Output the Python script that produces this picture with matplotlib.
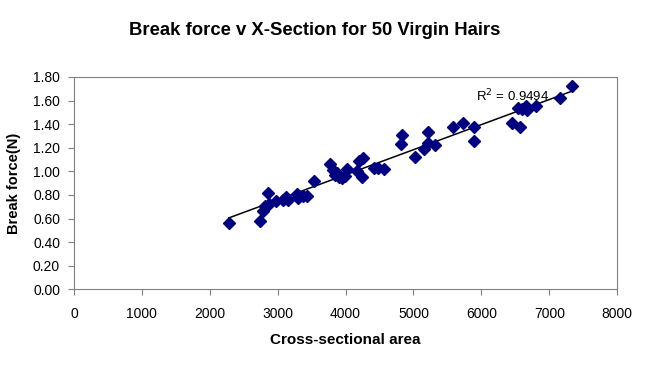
import matplotlib
matplotlib.use('Agg')
import matplotlib.pyplot as plt
import numpy as np

plt.rcParams['font.family'] = ['Liberation Sans', 'DejaVu Sans']

# cross-sectional area vs break force (N)
area = [2280, 2740, 2785, 2814, 2858, 2873, 2976, 3079, 3123, 3153,
        3285, 3300, 3374, 3433, 3536, 3772, 3816, 3845, 3904, 3948,
        3993, 4022, 4169, 4199, 4258, 4243, 4420, 4479, 4567, 4818,
        4832, 5024, 5157, 5216, 5216, 5319, 5584, 5731, 5893, 5893,
        6453, 6541, 6570, 6659, 6674, 6806, 7160, 7337, 3870, 6600]
force = [0.56, 0.58, 0.66, 0.71, 0.82, 0.72, 0.75, 0.76, 0.78, 0.76,
         0.81, 0.77, 0.79, 0.79, 0.92, 1.06, 1.01, 0.97, 0.95, 0.94,
         0.96, 1.02, 1.00, 1.09, 1.11, 0.95, 1.03, 1.03, 1.02, 1.23,
         1.31, 1.12, 1.19, 1.33, 1.24, 1.22, 1.38, 1.41, 1.38, 1.26,
         1.41, 1.54, 1.38, 1.55, 1.52, 1.55, 1.62, 1.72, 0.99, 1.53]
r2_text = 'R$^2$ = 0.9494'

fig = plt.figure(figsize=(6.49, 3.70), dpi=100)
ax = fig.add_axes([0.114, 0.218, 0.837, 0.574])

ax.plot(area, force, 'D', color='#000080', mec='#000080', ms=5.8, zorder=3)
k, b = np.polyfit(area, force, 1)
xs = np.array([min(area), max(area)])
ax.plot(xs, k * xs + b, color='black', lw=1.1, zorder=2)
ax.text(5920, 1.635, r2_text, fontsize=9.5, ha='left', va='center')

ax.set_xlim(0, 8000); ax.set_ylim(0, 1.8)
ax.set_xticks(np.arange(0, 8001, 1000))
ax.set_yticks(np.arange(0, 1.81, 0.2))
ax.set_yticklabels(['%.2f' % v for v in np.arange(0, 1.81, 0.2)])
for s in ax.spines.values():
    s.set_color('#808080')
ax.tick_params(direction='out', length=4, color='#808080', labelsize=10, pad=6)
ax.tick_params(axis='x', pad=9)

fig.text(0.485, 0.917, 'Break force v X-Section for 50 Virgin Hairs',
         ha='center', va='center', fontsize=13.3, weight='bold')
fig.text(0.532, 0.08, 'Cross-sectional area', ha='center', va='center',
         fontsize=11, weight='bold')
fig.text(0.022, 0.505, 'Break force(N)', ha='center', va='center',
         fontsize=10.5, weight='bold', rotation=90)

fig.savefig('out.png', dpi=100)
